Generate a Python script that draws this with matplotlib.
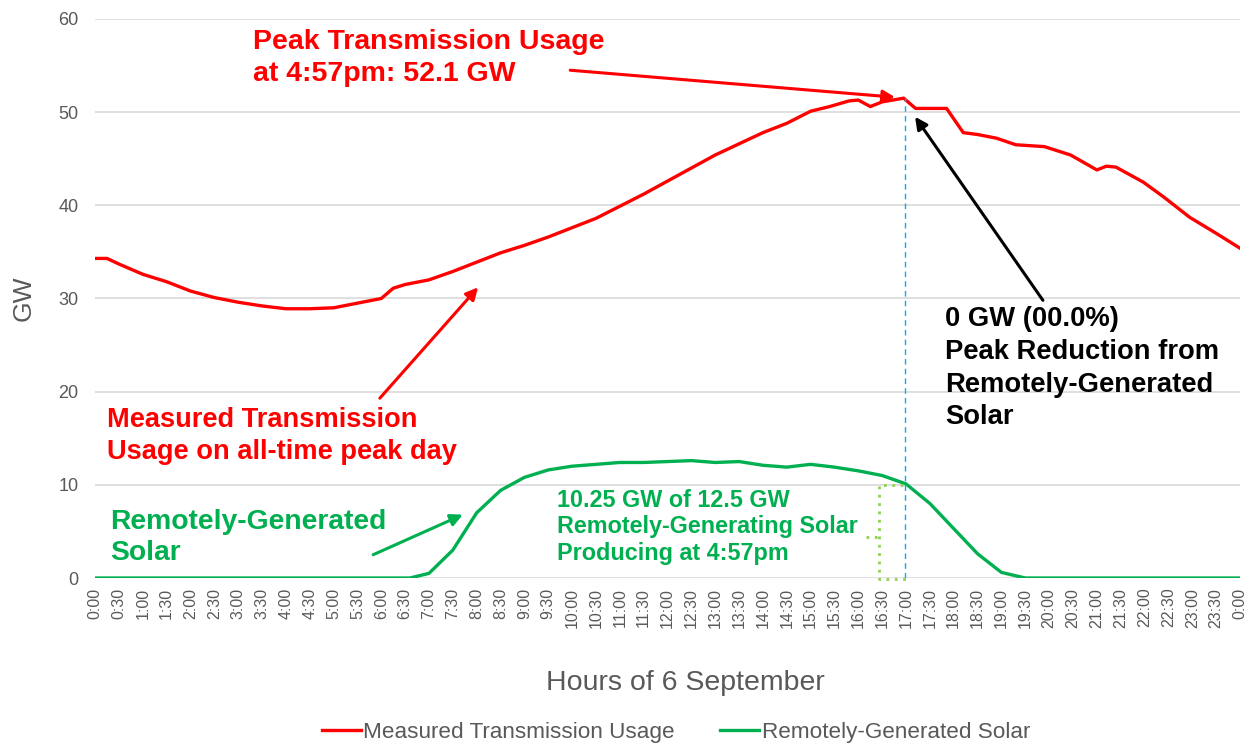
import matplotlib
matplotlib.use("Agg")
import matplotlib.pyplot as plt

plt.rcParams['font.family'] = ['Liberation Sans', 'DejaVu Sans']

# measured transmission usage (GW) on 6 September, hours of day
usage_hours = [0, 0.25, 0.5, 1.0, 1.5, 2.0, 2.5, 3.0, 3.5, 4.0, 4.5, 5.0, 5.5, 6.0, 6.25, 6.5,
               7.0, 7.5, 8.0, 8.5, 9.0, 9.5, 10.0, 10.5, 11.0, 11.5, 12.0, 12.5, 13.0, 13.5,
               14.0, 14.5, 15.0, 15.4, 15.8, 16.0, 16.25, 16.5, 16.95, 17.2, 17.5, 17.85,
               18.2, 18.5, 18.9, 19.3, 19.9, 20.45, 21.0, 21.2, 21.4, 21.97, 22.4, 22.95,
               23.5, 24.0]
usage_gw = [34.3, 34.3, 33.7, 32.6, 31.8, 30.8, 30.1, 29.6, 29.2, 28.9, 28.9, 29.0, 29.5, 30.0,
            31.1, 31.5, 32.0, 32.9, 33.9, 34.9, 35.7, 36.6, 37.6, 38.6, 39.9, 41.2, 42.6, 44.0,
            45.4, 46.6, 47.8, 48.8, 50.1, 50.6, 51.2, 51.3, 50.6, 51.1, 51.5, 50.4, 50.4, 50.4,
            47.8, 47.6, 47.2, 46.5, 46.3, 45.4, 43.8, 44.2, 44.1, 42.5, 40.9, 38.7, 37.0, 35.4]

# remotely-generated solar (GW)
solar_hours = [0, 6.0, 6.6, 7.0, 7.5, 8.0, 8.5, 9.0, 9.5, 10.0, 10.5, 11.0, 11.5, 12.0, 12.5,
               13.0, 13.5, 14.0, 14.5, 15.0, 15.5, 16.0, 16.5, 17.0, 17.5, 18.0, 18.5, 19.0,
               19.5, 20.0, 24.0]
solar_gw = [0, 0, 0, 0.5, 3.0, 7.0, 9.4, 10.8, 11.6, 12.0, 12.2, 12.4, 12.4, 12.5, 12.6,
            12.4, 12.5, 12.1, 11.9, 12.2, 11.9, 11.5, 11.0, 10.1, 8.0, 5.3, 2.6, 0.6, 0.0, 0, 0]

tick_hours = [i * 0.5 for i in range(49)]
tick_labels = ["%d:%02d" % (int(h) % 24, 30 if h % 1 else 0) for h in tick_hours]

peak_hour = 16.98
peak_gw = 51.5

RED = '#FF0000'
GREEN = '#00B050'
GREY = '#595959'

fig = plt.figure(figsize=(12.54, 7.44), dpi=100)
ax = fig.add_axes([0.0758, 0.2231, 0.913, 0.7514])

l1, = ax.plot(usage_hours, usage_gw, color=RED, lw=2.4, label='Measured Transmission Usage')
l2, = ax.plot(solar_hours, solar_gw, color=GREEN, lw=2.4, label='Remotely-Generated Solar')

ax.set_xlim(0, 24)
ax.set_ylim(0, 60)
ax.set_yticks(range(0, 61, 10))
ax.set_xticks(tick_hours)
ax.set_xticklabels(tick_labels, rotation=90, fontsize=11.5, color=GREY)
ax.tick_params(axis='y', labelsize=13, labelcolor=GREY, length=0, pad=12)
ax.tick_params(axis='x', length=0, pad=7)
ax.grid(axis='y', color='#D9D9D9', lw=1.2)
ax.set_axisbelow(True)
for s in ax.spines.values():
    s.set_visible(False)

ax.set_ylabel('GW', fontsize=19, color=GREY, labelpad=16)
ax.set_xlabel('Hours of 6 September', fontsize=20.5, color=GREY, labelpad=30, x=0.516)

# peak marker line and bracket
ax.plot([peak_hour, peak_hour], [0, peak_gw], color='#00B0F0', lw=1, ls=(0, (4, 3)))
ax.plot([16.94, 16.43, 16.43, 17.02], [10.0, 10.0, -0.1, -0.1], color='#92D050', lw=2,
        ls=(0, (1, 2)), clip_on=False)
ax.plot([16.16, 16.43], [4.4, 4.4], color='#92D050', lw=2, ls=(0, (1, 2)))

# annotations
arrow = dict(arrowstyle='-|>', lw=2.2, mutation_scale=18, shrinkA=0, shrinkB=0)
ax.text(3.31, 55.8, 'Peak Transmission Usage\nat 4:57pm: 52.1 GW', color=RED, fontsize=20.5,
        fontweight='bold', va='center', ha='left', linespacing=1.28)
ax.annotate('', xy=(16.77, 51.6), xytext=(9.96, 54.5), arrowprops=dict(arrow, color=RED))
ax.annotate('', xy=(8.03, 31.2), xytext=(5.97, 19.3), arrowprops=dict(arrow, color=RED))
ax.text(0.25, 15.2, 'Measured Transmission\nUsage on all-time peak day', color=RED, fontsize=19.6,
        fontweight='bold', va='center', ha='left', linespacing=1.3)
ax.annotate('', xy=(7.71, 6.8), xytext=(5.83, 2.5), arrowprops=dict(arrow, color=GREEN))
ax.text(0.31, 4.4, 'Remotely-Generated\nSolar', color=GREEN, fontsize=20.3,
        fontweight='bold', va='center', ha='left', linespacing=1.25)
ax.text(9.68, 5.5, '10.25 GW of 12.5 GW\nRemotely-Generating Solar\nProducing at 4:57pm',
        color=GREEN, fontsize=16.8, fontweight='bold', va='center', ha='left', linespacing=1.2)
ax.annotate('', xy=(17.19, 49.5), xytext=(19.87, 29.8), arrowprops=dict(arrow, color='black'))
ax.text(17.82, 22.5, '0 GW (00.0%)\nPeak Reduction from\nRemotely-Generated\nSolar',
        color='black', fontsize=19.7, fontweight='bold', va='center', ha='left', linespacing=1.33)

fig.legend(handles=[l1, l2], loc='lower center', bbox_to_anchor=(0.539, -0.026), ncol=2,
           frameon=False, fontsize=16.2, handlelength=1.75, handletextpad=0.1,
           columnspacing=2.0, labelcolor=GREY)

fig.savefig('out.png', dpi=100)
